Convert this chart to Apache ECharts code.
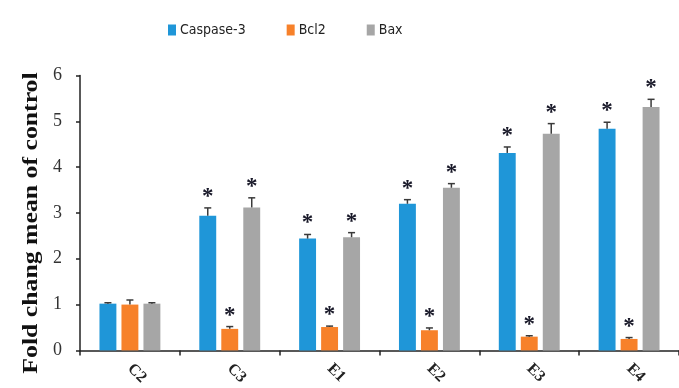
<!DOCTYPE html>
<html>
<head>
<meta charset="utf-8">
<script src="https://cdn.jsdelivr.net/npm/echarts@6/dist/echarts.min.js"></script>
<style>
  html, body { margin: 0; padding: 0; background: #fff; }
  #chart { width: 679px; height: 388px; }
</style>
</head>
<body>
<div id="chart"></div>
<script>
// Groups along the x axis
const categories = ['C2', 'C3', 'E1', 'E2', 'E3', 'E4'];

// Fold change relative to control (mean) and upper error
const caspase3 = [1.02, 2.94, 2.44, 3.20, 4.31, 4.84];
const caspase3Err = [0.02, 0.17, 0.09, 0.09, 0.13, 0.14];
const bcl2 = [1.00, 0.47, 0.51, 0.44, 0.30, 0.25];
const bcl2Err = [0.10, 0.05, 0.02, 0.05, 0.02, 0.03];
const bax = [1.02, 3.12, 2.47, 3.55, 4.73, 5.31];
const baxErr = [0.02, 0.21, 0.10, 0.09, 0.22, 0.17];

// Significance flags (true = marked with an asterisk)
const significant = [false, true, true, true, true, true];

const seriesNames = ['Caspase-3', 'Bcl2', 'Bax'];
const seriesColors = ['#1f96d8', '#f7812a', '#a6a6a6'];
const seriesValues = [caspase3, bcl2, bax];
const seriesErrors = [caspase3Err, bcl2Err, baxErr];

const yTicks = [0, 1, 2, 3, 4, 5, 6];

const CATEGORY_GAP = 0.39;
const BAR_GAP = 0.30;
const N = seriesNames.length;

// Error bar + significance mark for series idx, aligned with the grouped bars
function errorSeries(idx) {
  return {
    type: 'custom',
    name: seriesNames[idx] + ' err',
    silent: true,
    z: 5,
    data: seriesValues[idx].map((v, i) => [i, v, v + seriesErrors[idx][i], significant[i] ? 1 : 0]),
    renderItem: function (params, api) {
      const catW = api.size([1, 0])[0];
      const barW = catW * (1 - CATEGORY_GAP) / (N + (N - 1) * BAR_GAP);
      const total = catW * (1 - CATEGORY_GAP);
      const offset = -total / 2 + barW / 2 + idx * barW * (1 + BAR_GAP);
      const base = api.coord([api.value(0), api.value(1)]);
      const top = api.coord([api.value(0), api.value(2)]);
      const x = base[0] + offset;
      const cap = 3.5;
      const children = [
        { type: 'line', shape: { x1: x, y1: base[1], x2: x, y2: top[1] }, style: { stroke: '#3a3a3a', lineWidth: 1.5 } },
        { type: 'line', shape: { x1: x - cap, y1: top[1], x2: x + cap, y2: top[1] }, style: { stroke: '#3a3a3a', lineWidth: 1.5 } }
      ];
      if (api.value(3)) {
        children.push({
          type: 'text',
          style: {
            text: '*', x: x, y: top[1] - 11,
            align: 'center', verticalAlign: 'middle',
            font: 'bold 23px "Liberation Serif"', fill: '#1a1a2a'
          }
        });
      }
      return { type: 'group', children: children };
    }
  };
}

const chart = echarts.init(document.getElementById('chart'), null, { renderer: 'canvas' });

const barSeries = seriesNames.map((name, idx) => ({
  type: 'bar',
  name: name,
  data: seriesValues[idx],
  itemStyle: { color: seriesColors[idx] },
  barGap: (BAR_GAP * 100) + '%',
  barCategoryGap: (CATEGORY_GAP * 100) + '%',
  z: 2
}));

chart.setOption({
  animation: false,
  color: seriesColors,
  legend: {
    data: seriesNames,
    left: 163,
    top: 18,
    itemWidth: 8,
    itemHeight: 11,
    itemGap: 41,
    icon: 'rect',
    textStyle: { fontFamily: 'DejaVu Sans Condensed', fontSize: 14, color: '#222', padding: [0, 0, 0, -1] }
  },
  grid: { left: 80, right: -4, top: 75.5, bottom: 37 },
  xAxis: {
    type: 'category',
    data: categories,
    axisLine: { lineStyle: { color: '#222', width: 1.5 } },
    axisTick: { show: true, length: 5, lineStyle: { color: '#222', width: 1.5 } },
    axisLabel: {
      rotate: -45,
      margin: 16,
      fontFamily: 'Liberation Serif',
      fontWeight: 'bold',
      fontSize: 16,
      color: '#222'
    }
  },
  yAxis: {
    type: 'value',
    min: yTicks[0],
    max: yTicks[yTicks.length - 1],
    interval: 1,
    splitLine: { show: false },
    axisLine: { show: true, lineStyle: { color: '#222', width: 1.5 } },
    axisTick: { show: true, length: 4, lineStyle: { color: '#222', width: 1.5 } },
    axisLabel: {
      margin: 18,
      fontFamily: 'Liberation Serif',
      fontSize: 18,
      color: '#333'
    }
  },
  graphic: [{
    type: 'text',
    x: 31,
    y: 223,
    rotation: Math.PI / 2,
    scaleX: 1.17,
    style: {
      text: 'Fold chang mean of control',
      align: 'center',
      verticalAlign: 'middle',
      font: 'bold 22px "Liberation Serif"',
      fill: '#111'
    }
  }],
  series: barSeries.concat([0, 1, 2].map(errorSeries))
});
</script>
</body>
</html>
